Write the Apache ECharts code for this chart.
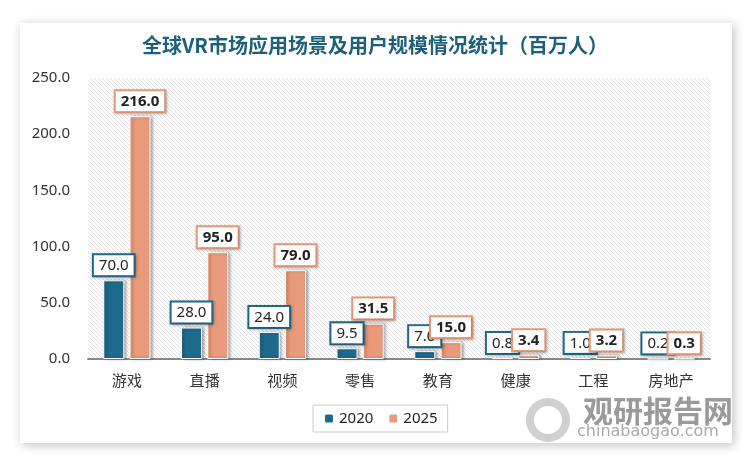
<!DOCTYPE html>
<html><head><meta charset="utf-8">
<script src="https://cdn.jsdelivr.net/npm/echarts@6/dist/echarts.min.js"></script>
<style>html,body{margin:0;padding:0;background:#fff}#c{width:750px;height:460px}</style>
</head><body><div id="c"></div>
<script>
var categories = ['游戏','直播','视频','零售','教育','健康','工程','房地产'];
var values2020 = [70, 28, 24, 9.5, 7.0, 0.8, 1.0, 0.2];
var values2025 = [216, 95, 79, 31.5, 15, 3.4, 3.2, 0.3];
var seriesNames = ['2020','2025'];
var yTicks = [0, 50, 100, 150, 200, 250];

var pc = document.createElement('canvas');
pc.width = 4; pc.height = 4;
var g = pc.getContext('2d');
g.fillStyle = '#ffffff'; g.fillRect(0,0,4,4);
g.strokeStyle = '#e2e2e2'; g.lineWidth = 1;
g.beginPath(); g.moveTo(-1,-1); g.lineTo(5,5); g.moveTo(-1,3); g.lineTo(1,5); g.moveTo(3,-1); g.lineTo(5,1); g.stroke();

var chart = echarts.init(document.getElementById('c'));
var c1 = '#1e6a8c', c2 = '#e99a7a';
function lbl(color, bold){
  return {show:true, position:'top', distance:5, formatter:function(p){return p.value.toFixed(1);},
    fontFamily:'Noto Sans', fontSize:15, color:'#222', fontWeight: bold?'bold':'normal',
    backgroundColor:'#fff', borderColor:color, borderWidth:2, padding:[3,5,2,5],
    shadowBlur:3, shadowColor:'rgba(0,0,0,0.25)', shadowOffsetX:1, shadowOffsetY:1};
}
chart.setOption({
  animation:false,
  graphic:[
    {type:'rect', shape:{x:20,y:23,width:712,height:420}, style:{fill:'#fff', shadowBlur:10, shadowColor:'rgba(0,0,0,0.25)', shadowOffsetX:2, shadowOffsetY:2}, z:-10},
    {type:'text', left:583, top:396, style:{text:'观研报告网', fontSize:30, fontWeight:'bold', fill:'#9a9a9a', fontFamily:'Noto Sans CJK SC'}, z:-1},
    {type:'text', left:577, top:424, style:{text:'chinabaogao.com', fontSize:16, fill:'#aaa', fontFamily:'DejaVu Sans'}, z:-1},
    {type:'ring', shape:{cx:548, cy:420, r:22, r0:14}, style:{fill:'#d0d0d0'}, z:-1}
  ],
  title:{text:'全球VR市场应用场景及用户规模情况统计（百万人）', left:'center', top:30,
    textStyle:{color:'#1e5f7a', fontSize:20, fontWeight:'bold', fontFamily:'Noto Sans CJK SC'}},
  legend:{data:seriesNames, bottom:28, left:313, itemWidth:10, itemHeight:10, itemGap:14,
    borderColor:'#ccc', borderWidth:1, padding:[6,10],
    textStyle:{fontSize:15, color:'#222', fontFamily:'Noto Sans'}},
  grid:{left:88, right:40, top:78, bottom:101, show:true, borderWidth:0,
    backgroundColor:{image:pc, repeat:'repeat'}},
  xAxis:{type:'category', data:categories, axisTick:{show:false},
    axisLine:{lineStyle:{color:'#888', width:2}},
    axisLabel:{fontSize:15, color:'#333', margin:14, fontFamily:'Noto Sans CJK SC'}},
  yAxis:{type:'value', min:yTicks[0], max:yTicks[yTicks.length-1], interval:50,
    splitLine:{show:false}, axisLine:{show:false},
    axisLabel:{fontSize:15, color:'#333', margin:18, fontFamily:'Noto Sans', formatter:function(v){return v.toFixed(1);}}},
  series:[
    {name:seriesNames[0], type:'bar', data:values2020, barWidth:21, barGap:'25%',
     itemStyle:{color:c1, borderColor:'#fff', borderWidth:1, shadowBlur:3, shadowColor:'rgba(0,0,0,0.35)', shadowOffsetX:2},
     label:lbl(c1,false)},
    {name:seriesNames[1], type:'bar', data:values2025, barWidth:21,
     itemStyle:{color:c2, borderColor:'#fff', borderWidth:1, shadowBlur:3, shadowColor:'rgba(0,0,0,0.35)', shadowOffsetX:2},
     label:lbl(c2,true)}
  ]
});
</script></body></html>
